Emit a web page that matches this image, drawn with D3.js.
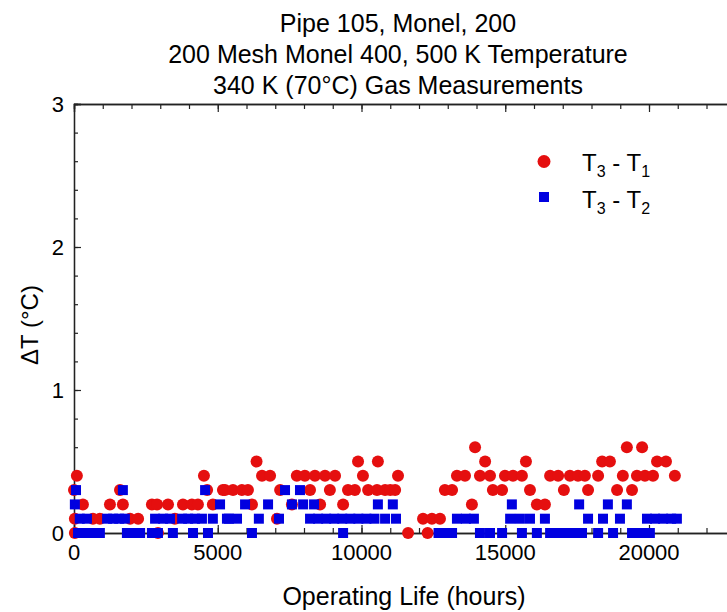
<!DOCTYPE html>
<html><head><meta charset="utf-8">
<script src="https://cdn.jsdelivr.net/npm/d3@7/dist/d3.min.js"></script>
<style>body{margin:0;background:#fff}svg{display:block}text{font-family:"Liberation Sans",Arial,sans-serif;fill:#000}</style>
</head><body>
<script>
const titleLines = ["Pipe 105, Monel, 200","200 Mesh Monel 400, 500 K Temperature","340 K (70°C) Gas Measurements"];
const xTicks = [0,5000,10000,15000,20000];
const yTicks = [0,1,2,3];
// T3 - T1 (red circles): hours, delta T
const t31Hours = [100,4520, 0,1600,4630,5180, 310,1250,1700,2710,2890,3270,3790,4100,4310,4830, 30,660,900,1950,2230,3510, 30,2920,
 6350,9880,10570, 6540,6820,7750,8030,8380,8730,9080,10050, 5250,5530,5840,6050,7170,8210,8900,9530,9770,10230,10540,10820, 6190,7580,8560,9360, 7060,
 13950, 14300,15720, 11270,13320,13600,14120,14470,14990,15270,15580, 11000,11170,12900,13150,14570,14890,15860, 13840,16100,16380, 12140,12450,12730, 11620,12300,
 19230,19760, 18370,18640,20280,20590, 16560,16840,17250,17530,17770,18230,19090,19580,19860,20140,20900, 17040,17880,18890,19410];
const t31Values = [0.4,0.4, 0.3,0.3,0.3,0.3, 0.2,0.2,0.2,0.2,0.2,0.2,0.2,0.2,0.2,0.2, 0.1,0.1,0.1,0.1,0.1,0.1, 0,0,
 0.5,0.5,0.5, 0.4,0.4,0.4,0.4,0.4,0.4,0.4,0.4, 0.3,0.3,0.3,0.3,0.3,0.3,0.3,0.3,0.3,0.3,0.3,0.3, 0.2,0.2,0.2,0.2, 0.1,
 0.6, 0.5,0.5, 0.4,0.4,0.4,0.4,0.4,0.4,0.4,0.4, 0.3,0.3,0.3,0.3,0.3,0.3,0.3, 0.2,0.2,0.2, 0.1,0.1,0.1, 0,0,
 0.6,0.6, 0.5,0.5,0.5,0.5, 0.4,0.4,0.4,0.4,0.4,0.4,0.4,0.4,0.4,0.4,0.4, 0.3,0.3,0.3,0.3];
// T3 - T2 (blue squares)
const t32Hours = [70,1700,4560, 30,5080, 200,450,1150,1360,1570,1770,2820,3100,3340,3760,3970,4210,4450,4830,5320, 140,420,700,900,1840,2090,2300,2710,2920,3440,4140,4660,
 7340,7860, 5950,6750,7580,7970,8350,10570, 5390,5670,6430,7130,8210,8490,8770,9050,9330,9610,9890,10170,10450,10820,11200, 6190,9360,
 11090,15230, 13320,13630,13910,15170,15510,15860, 12680,12920,13150,14120,14470,14890,15580,16100,
 17570,18570,19230, 16380,17880,18400,18990,19930,20210,20490,20770,20970, 16560,16840,17110,17390,17670,18230,18750,19410,19690,20030];
const t32Values = [0.3,0.3,0.3, 0.2,0.2, 0.1,0.1,0.1,0.1,0.1,0.1,0.1,0.1,0.1,0.1,0.1,0.1,0.1,0.1,0.1, 0,0,0,0,0,0,0,0,0,0,0,0,
 0.3,0.3, 0.2,0.2,0.2,0.2,0.2,0.2, 0.1,0.1,0.1,0.1,0.1,0.1,0.1,0.1,0.1,0.1,0.1,0.1,0.1,0.1,0.1, 0,0,
 0.2,0.2, 0.1,0.1,0.1,0.1,0.1,0.1, 0,0,0,0,0,0,0,0,
 0.2,0.2,0.2, 0.1,0.1,0.1,0.1,0.1,0.1,0.1,0.1,0.1, 0,0,0,0,0,0,0,0,0,0];
const legendSeries = [{main:"T",s1:"3",mid:" - T",s2:"1"},{main:"T",s1:"3",mid:" - T",s2:"2"}];

const W=727,H=612;
const svg=d3.select("body").append("svg").attr("width",W).attr("height",H);
const x=d3.scaleLinear().domain([0,23000]).range([74,74+23000*0.02875]);
const y=d3.scaleLinear().domain([0,3]).range([533,104]);
const RED="#e50f0f", BLUE="#0000e0";

// title
svg.append("g").selectAll("text").data(titleLines).join("text")
 .attr("x",398).attr("y",(d,i)=>32+i*31).attr("text-anchor","middle").attr("font-size",25).text(d=>d);

// axes frame
const axCol="#222";
const gB=svg.append("g").attr("transform","translate(0,533)").call(d3.axisBottom(x).tickValues(d3.range(0,23001,1000)).tickSize(-5).tickFormat(""));
const gB2=svg.append("g").attr("transform","translate(0,533)").call(d3.axisBottom(x).tickValues(xTicks).tickSize(-8).tickFormat(""));
const gT=svg.append("g").attr("transform","translate(0,104)").call(d3.axisTop(x).tickValues(d3.range(0,23001,1000)).tickSize(-5).tickFormat(""));
const gT2=svg.append("g").attr("transform","translate(0,104)").call(d3.axisTop(x).tickValues(xTicks).tickSize(-8).tickFormat(""));
const gL=svg.append("g").attr("transform","translate(74,0)").call(d3.axisLeft(y).tickValues(d3.range(0,3.001,0.2)).tickSize(-4).tickFormat(""));
const gL2=svg.append("g").attr("transform","translate(74,0)").call(d3.axisLeft(y).tickValues(yTicks).tickSize(-7).tickFormat(""));
[gB,gB2,gT,gT2,gL,gL2].forEach(g=>{g.selectAll("path").attr("stroke",axCol).attr("stroke-width",1.3);g.selectAll("line").attr("stroke",axCol).attr("stroke-width",1.2);});

// tick labels
svg.append("g").selectAll("text").data(xTicks).join("text").attr("x",d=>x(d)).attr("y",560)
 .attr("text-anchor","middle").attr("font-size",22).text(d=>d);
svg.append("g").selectAll("text").data(yTicks).join("text").attr("x",64).attr("y",d=>y(d)+8)
 .attr("text-anchor","end").attr("font-size",22).text(d=>d);

// axis titles
svg.append("text").attr("x",404).attr("y",605).attr("text-anchor","middle").attr("font-size",25).text("Operating Life (hours)");
svg.append("text").attr("transform","translate(38,325) rotate(-90)").attr("text-anchor","middle").attr("font-size",24).text("ΔT (°C)");

// data
const red=t31Hours.map((h,i)=>({h,v:t31Values[i]}));
const blue=t32Hours.map((h,i)=>({h,v:t32Values[i]}));
svg.append("g").selectAll("circle").data(red).join("circle")
 .attr("cx",d=>x(d.h)).attr("cy",d=>y(d.v)).attr("r",6).attr("fill",RED);
const sq=10;
svg.append("g").selectAll("rect").data(blue).join("rect")
 .attr("x",d=>x(d.h)-sq/2).attr("y",d=>y(d.v)-sq/2).attr("width",sq).attr("height",sq).attr("fill",BLUE);

// legend
svg.append("circle").attr("cx",544).attr("cy",161.5).attr("r",6.5).attr("fill",RED);
svg.append("rect").attr("x",539).attr("y",192).attr("width",10).attr("height",10).attr("fill",BLUE);
legendSeries.forEach((s,i)=>{
  const t=svg.append("text").attr("x",582).attr("y",171+i*37).attr("font-size",24);
  t.append("tspan").text(s.main);
  t.append("tspan").attr("font-size",16).attr("dy",6).text(s.s1);
  t.append("tspan").attr("dy",-6).text(s.mid);
  t.append("tspan").attr("font-size",16).attr("dy",6).text(s.s2);
});
</script>
</body></html>
